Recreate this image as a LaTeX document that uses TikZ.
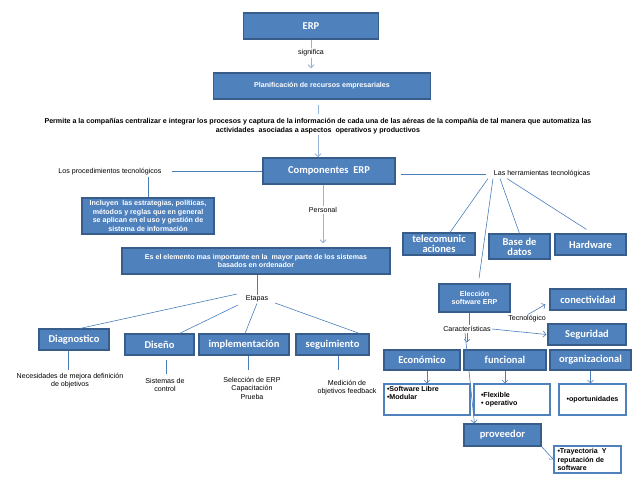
\documentclass[tikz,border=0pt]{standalone}
\usepackage{fontspec}
\setmainfont{Liberation Sans}
\newfontfamily\calib{Carlito}
\usepackage{tikz}
\usetikzlibrary{arrows.meta}
\definecolor{boxblue}{HTML}{4F81BD}
\definecolor{boxline}{HTML}{385D8A}
\definecolor{lnblue}{HTML}{4A7EBB}
\definecolor{lnlight}{HTML}{95B3D7}
\newcommand\smalltxt{\fontsize{7.1}{8.5}\selectfont}
\newcommand\bigtxt{\calib\bfseries\fontsize{10.5}{10}\selectfont}
\tikzstyle{lnhead}=[>/.tip={Straight Barb[length=3pt,width=6pt]}]
\tikzstyle{ln} =[line width=.6pt,draw=lnblue,lnhead]
\tikzstyle{lnl}=[line width=1pt,draw=lnlight,lnhead]
\tikzstyle{bx} =[draw=boxline,fill=boxblue,line width=1.1pt,text=white,inner sep=0pt,align=center]
\tikzstyle{ttl}=[bx,font=\bigtxt]
\tikzstyle{sml}=[bx,font=\smalltxt\bfseries]
\tikzstyle{txt}=[inner sep=1pt,align=center,font=\smalltxt]
\tikzstyle{wbx}=[draw=boxblue,fill=white,line width=1.1pt,inner sep=2pt,align=left,font=\smalltxt\bfseries]

\begin{document}
\begin{tikzpicture}[x=1pt,y=-1pt]
	\useasboundingbox (0,0) rectangle (638,479);
	% top
	\node[ttl,minimum width=135pt,minimum height=26pt] (erp) at (311,26) {ERP};
	\node[txt] (sig) at (311,53) {significa};
	\node[sml,minimum width=217pt,minimum height=26pt] (plan) at (322,86) {Planificación de recursos empresariales};
	\node[txt,font=\smalltxt\bfseries] (perm) at (318,126) {Permite a la compañías centralizar e integrar los procesos y captura de la información de cada una de las aéreas de la compañía de tal manera que automatiza las\\actividades\ \ asociadas a aspectos\ \ operativos y productivos};
	\node[ttl,minimum width=132pt,minimum height=26pt] (comp) at (329,171) {Componentes\ \ ERP};
	\draw[lnl] (erp) -- (sig);
	\draw[lnl,->,shorten >=4pt] (sig) -- (sig |- plan.north);
	\draw[lnl,shorten <=5pt,shorten >=3pt] (plan.south -| perm) -- (perm);
	\draw[lnl,->] (perm) -- (perm |- comp.north);
	% left branch
	\node[txt] (proc) at (110,172) {Los procedimientos tecnológicos};
	\node[sml,minimum width=132pt,minimum height=36pt] (incl) at (148,216) {Incluyen\ \ las estrategias, políticas,\\métodos y reglas que en general\\se aplican en el uso y gestión de\\sistema de información};
	\draw[ln,shorten >=9pt] (comp.west) -- (comp.west -| proc.east);
	\draw[ln] (proc.south -| incl) -- (incl.north);
	% personal
	\node[txt] (pers) at (323,210) {Personal};
	\node[sml,minimum width=268pt,minimum height=26pt] (elem) at (256,261) {Es el elemento mas importante en la\ \ mayor parte de los sistemas\\basados en ordenador};
	\draw[lnl] (comp.south -| pers) -- (pers);
	\draw[lnl,->,shorten >=4pt] (pers) -- (pers |- elem.north);
	% etapas
	\node[txt] (etap) at (257,299) {Etapas};
	\node[ttl,minimum width=70pt,minimum height=21pt] (diag) at (74,339.5) {Diagnostico};
	\node[ttl,minimum width=69pt,minimum height=21pt] (dise) at (159.5,344.5) {Diseño};
	\node[ttl,minimum width=90pt,minimum height=21pt] (impl) at (244,344.5) {implementación};
	\node[ttl,minimum width=73pt,minimum height=21pt] (segu) at (332.5,344.5) {seguimiento};
	\draw[ln] (elem.south -| etap) -- (etap);
	\draw[ln] ([shift={(-20,-5)}]etap.center) -- ([xshift=6pt]diag.north);
	\draw[ln] ([shift={(-19,6)}]etap.center) -- ([xshift=20pt]dise.north);
	\draw[ln] (etap.south) -- ([xshift=1pt]impl.north);
	\draw[ln] ([shift={(18,4)}]etap.center) -- ([xshift=27pt]segu.north);
	\node[txt] (nec) at (70,380.5) {Necesidades de mejora definición\\de objetivos};
	\node[txt] (sist) at (165,385) {Sistemas de\\control};
	\node[txt] (sel) at (252,388) {Selección de ERP\\Capacitación\\Prueba};
	\node[txt] (med) at (347,387.5) {Medición de\\objetivos feedback};
	\draw[ln,shorten >=2pt] ([xshift=-6pt]diag.south) -- ([xshift=-6pt]diag.south |- nec.north);
	\draw[ln,shorten <=4pt,shorten >=3pt] ([xshift=7pt]dise.south) -- ([xshift=7pt]dise.south |- sist.north);
	\draw[ln,shorten >=6pt] ([xshift=4pt]impl.south) -- ([xshift=4pt]impl.south |- sel.north);
	\draw[ln,shorten >=9pt] ([xshift=6pt]segu.south) -- ([xshift=6pt]segu.south |- med.north);
	% herramientas
	\node[txt] (herr) at (542,174) {Las herramientas tecnológicas};
	\node[ttl,minimum width=72pt,minimum height=22pt] (tele) at (439,244) {telecomunic\\aciones};
	\node[ttl,minimum width=61pt,minimum height=25pt] (base) at (519.5,246.5) {Base de\\datos};
	\node[ttl,minimum width=71pt,minimum height=21pt] (hard) at (590.5,244.5) {Hardware};
	\node[sml,minimum width=71pt,minimum height=28pt] (elec) at (474.5,298) {Elección\\software ERP};
	\draw[ln,shorten <=5pt,shorten >=7pt] (comp.east |- herr.west) -- (herr.west);
	\draw[ln] ([xshift=-54pt]herr.south) -- ([xshift=11pt]tele.north);
	\draw[ln] ([xshift=-49pt]herr.south) -- ([shift={(4.5,-5)}]elec.north);
	\draw[ln] ([xshift=-42pt]herr.south) -- (base.north);
	\draw[ln] ([xshift=-35pt]herr.south) -- ([shift={(-4,-4)}]hard.north);
	% caracteristicas
	\node[txt] (cara) at (467,329) {Características};
	\node[txt] (tecn) at (527,319) {Tecnológico};
	\node[ttl,minimum width=76pt,minimum height=21pt] (cone) at (588,299.5) {conectividad};
	\node[ttl,minimum width=78pt,minimum height=21pt] (segr) at (587,334.5) {Seguridad};
	\node[ttl,minimum width=76pt,minimum height=20pt] (econ) at (422,360) {Económico};
	\node[ttl,minimum width=82pt,minimum height=20pt] (func) at (505,360) {funcional};
	\node[ttl,minimum width=81pt,minimum height=20pt] (orga) at (590.5,360) {organizacional};
	\node[ttl,minimum width=77pt,minimum height=22pt] (prov) at (502.5,435) {proveedor};
	\draw[ln] ([xshift=-5pt]elec.south) -- ([xshift=-5pt]elec.south |- cara.north);
	\draw[ln,->] ([xshift=1pt]tecn.north) -- ([shift={(-4,5)}]cone.west);
	\draw[ln,->] (cara.east) -- ([xshift=-1pt]segr.west);
	\draw[ln,->,shorten >=7pt] (cara.south) -- (cara.south |- func.north);
	\draw[ln,->] ([xshift=-2pt]cara.south) -- ([xshift=11pt]prov.north west);
	% white boxes
	\node[wbx,minimum width=86pt,minimum height=31pt] (soft) at (427,399.5) {\parbox[c][27pt][t]{80pt}{•Software Libre\\•Modular}};
	\node[wbx,minimum width=76pt,minimum height=31pt] (flex) at (512,399.5) {\parbox{62pt}{•Flexible\\• operativo}};
	\node[wbx,minimum width=67pt,minimum height=31pt] (opor) at (592.5,399.5) {•oportunidades};
	\node[wbx,minimum width=67pt,minimum height=27pt,inner sep=1pt] (tray) at (587.5,459.5) {\parbox{60pt}{•Trayectoria\ \ Y\\reputación de\\software}};
	\draw[ln,->] (econ.south -| soft) -- (soft.north);
	\draw[ln,->] (func.south) -- (func.south |- flex.north);
	\draw[ln,->] (orga.south) -- (orga.south |- opor.north);
	\draw[ln,->] (prov.south east) -- (tray.west);
\end{tikzpicture}
\end{document}
